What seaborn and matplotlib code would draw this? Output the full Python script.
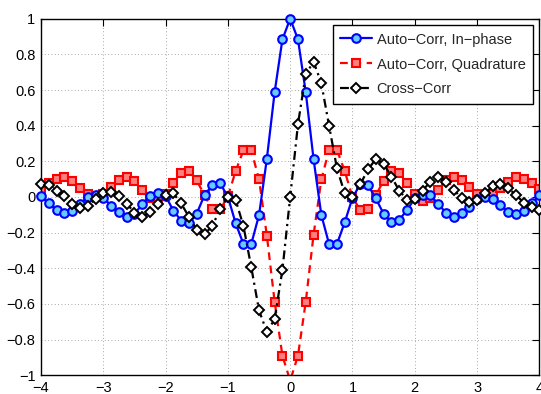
import numpy as np
import pandas as pd
import matplotlib
matplotlib.use("Agg")
import matplotlib.pyplot as plt
import seaborn as sns

# sample positions (k/8, k=-32..32)
x = np.arange(-32, 33) / 8.0

auto_inphase = [
    0.005, -0.036, -0.073, -0.092, -0.079, -0.040, 0.002, 0.011, -0.004, -0.049,
    -0.082, -0.110, -0.095, -0.041, 0.008, 0.020, 0.005, -0.076, -0.133, -0.148,
    -0.093, 0.011, 0.067, 0.076, 0.002, -0.148, -0.264, -0.264, -0.101, 0.213,
    0.587, 0.884, 1.000,
    0.884, 0.587, 0.213, -0.101, -0.265, -0.265, -0.142, -0.005, 0.073, 0.067,
    -0.008, -0.095, -0.138, -0.129, -0.073, -0.008, 0.011, 0.011, -0.039, -0.088,
    -0.110, -0.092, -0.054, -0.010, 0.002, -0.013, -0.045, -0.082, -0.095, -0.079,
    -0.036, 0.011]

auto_quad = [
    0.045, 0.078, 0.100, 0.114, 0.088, 0.049, 0.016, 0.007, 0.015, 0.058,
    0.095, 0.114, 0.092, 0.042, -0.004, -0.016, 0.015, 0.077, 0.133, 0.146,
    0.093, 0.009, -0.068, -0.070, 0.003, 0.146, 0.262, 0.262, 0.099, -0.216,
    -0.587, -0.890, -1.030,
    -0.890, -0.587, -0.213, 0.099, 0.264, 0.264, 0.146, -0.002, -0.073, -0.069,
    0.011, 0.091, 0.146, 0.133, 0.077, 0.015, -0.022, -0.004, 0.040, 0.095,
    0.114, 0.095, 0.058, 0.015, 0.011, 0.015, 0.049, 0.086, 0.114, 0.100,
    0.077, 0.045]

cross_corr = [
    0.072, 0.065, 0.035, 0.005, -0.040, -0.062, -0.048, -0.012, 0.020, 0.028,
    0.005, -0.037, -0.087, -0.112, -0.085, -0.040, 0.012, 0.020, -0.036, -0.112,
    -0.185, -0.208, -0.163, -0.067, 0.002, -0.017, -0.163, -0.394, -0.636, -0.757,
    -0.686, -0.409, 0.000,
    0.409, 0.688, 0.759, 0.638, 0.398, 0.161, 0.021, 0.002, 0.071, 0.155,
    0.213, 0.185, 0.114, 0.036, -0.017, -0.013, 0.036, 0.086, 0.114, 0.086,
    0.039, -0.004, -0.030, -0.017, 0.021, 0.062, 0.071, 0.049, 0.011, -0.032,
    -0.058, -0.073]

labels = ["Auto\u2212Corr, In\u2212phase", "Auto\u2212Corr, Quadrature", "Cross\u2212Corr"]
xticks = [-4, -3, -2, -1, 0, 1, 2, 3, 4]
yticks = [-1, -0.8, -0.6, -0.4, -0.2, 0, 0.2, 0.4, 0.6, 0.8, 1]

df = pd.DataFrame({"x": x, "a": auto_inphase, "q": auto_quad, "c": cross_corr})

sns.set_theme(style="white")
plt.rcParams["font.family"] = ["Liberation Sans", "DejaVu Sans"]

fig = plt.figure(figsize=(5.41, 3.94), dpi=100)
ax = fig.add_axes([0.0758, 0.0475, 0.9212, 0.905])

sns.lineplot(data=df, x="x", y="a", ax=ax, color="#0000ff", lw=1.6,
             marker="o", markersize=6.2, markerfacecolor="#66ccff",
             markeredgecolor="#0000ff", markeredgewidth=1.5,
             label=labels[0], estimator=None, sort=False, clip_on=False, zorder=3)
sns.lineplot(data=df, x="x", y="q", ax=ax, color="#ff0000", lw=1.6,
             linestyle=(0, (3.5, 2.5)),
             marker="s", markersize=5.6, markerfacecolor="#ff7f7f",
             markeredgecolor="#ff0000", markeredgewidth=1.5,
             label=labels[1], estimator=None, sort=False, zorder=2)
sns.lineplot(data=df, x="x", y="c", ax=ax, color="black", lw=1.6,
             linestyle=(0, (4, 2, 1, 2)),
             marker="D", markersize=5, markerfacecolor="white",
             markeredgecolor="black", markeredgewidth=1.4,
             label=labels[2], estimator=None, sort=False, clip_on=False, zorder=4)

ax.set_xlim(-4, 4)
ax.set_ylim(-1, 1)
ax.set_xticks(xticks)
ax.set_yticks(yticks)
ax.set_xticklabels([("\u2212" + str(abs(t))) if t < 0 else str(t) for t in xticks])
def fmt(v):
    s = ("%g" % abs(v))
    return ("\u2212" + s) if v < 0 else s
ax.set_yticklabels([fmt(v) for v in yticks])
ax.set_xlabel("")
ax.set_ylabel("")

ax.grid(True, linestyle=(0, (1, 3)), color="#8a8a8a", linewidth=0.6)
ax.set_axisbelow(True)
ax.tick_params(axis="both", direction="in", length=5, width=0.8, top=True, right=True,
               labelsize=10.5, colors="black", pad=4)
for s in ax.spines.values():
    s.set_color("black")
    s.set_linewidth(1.0)
    s.set_visible(True)

leg = ax.legend(loc="upper right", fontsize=10.5, frameon=True, fancybox=False,
                edgecolor="black", framealpha=1, borderpad=0.5, labelspacing=0.75,
                handlelength=2.2, handletextpad=0.3, borderaxespad=0.45)
leg.get_frame().set_linewidth(1.0)

fig.savefig("out.png", dpi=100)
